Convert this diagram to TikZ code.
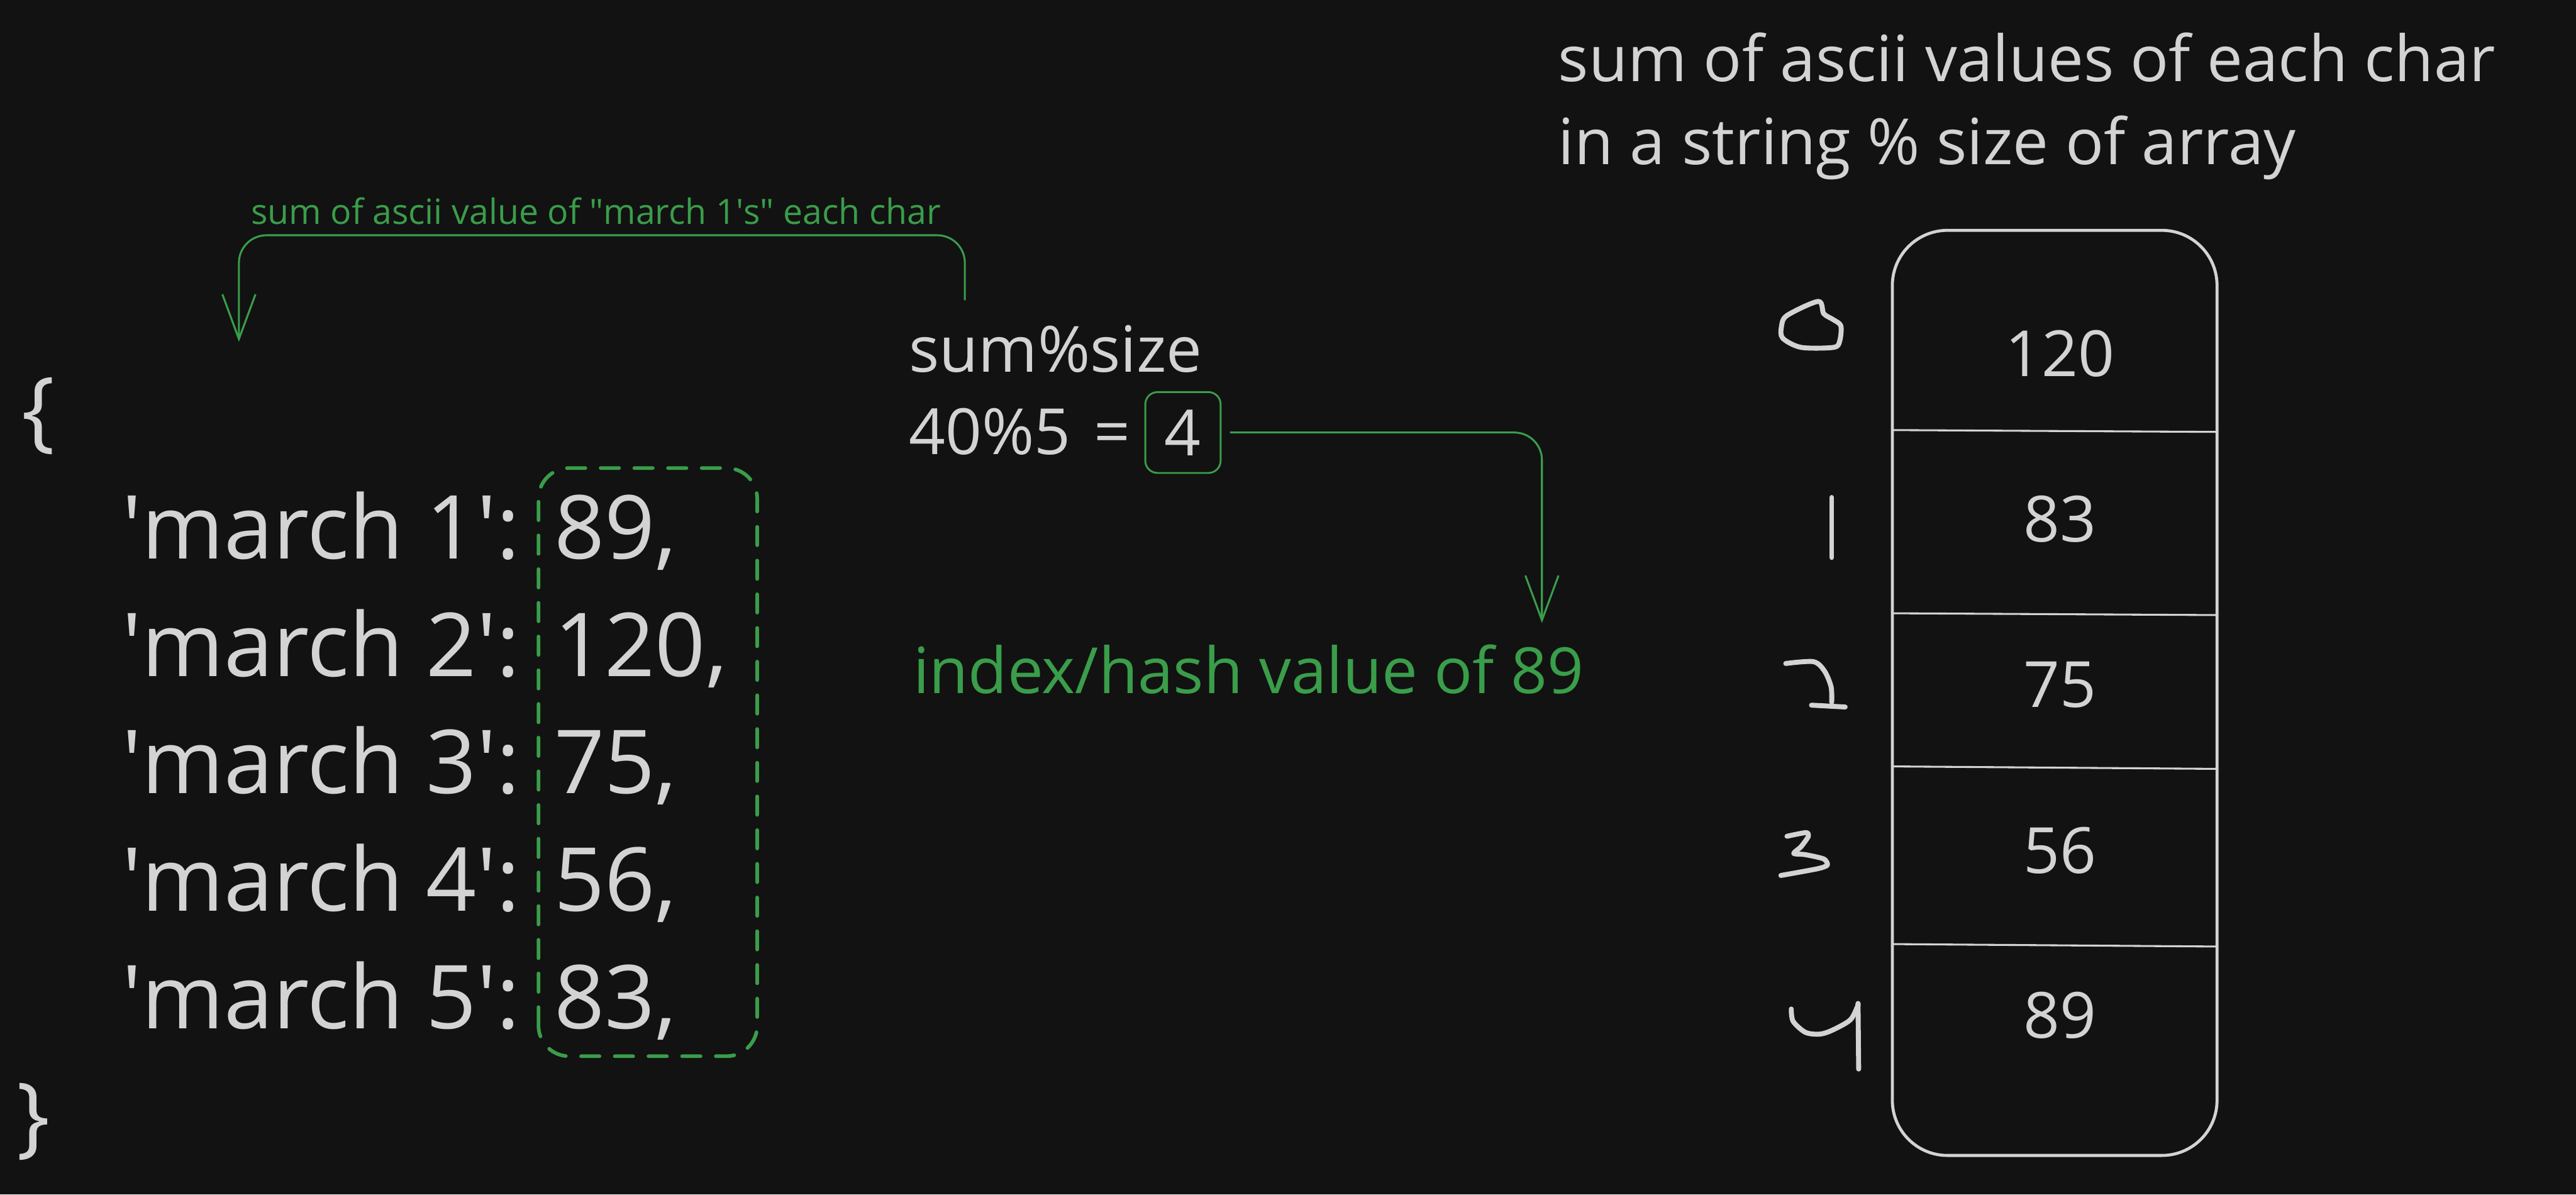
\documentclass[tikz,border=0pt]{standalone}
\usepackage{fontspec}
\setmainfont{Open Sans}
\usetikzlibrary{arrows.meta}

\definecolor{bgcol}{HTML}{121212}
\definecolor{inkcol}{HTML}{D3D3D3}
\definecolor{greencol}{HTML}{3A9D4A}

\tikzset{
  codeline/.style={text=inkcol, font=\fontsize{41}{49}\selectfont, inner sep=0pt, anchor=base west},
  midtext/.style={text=inkcol, font=\fontsize{29.6}{36}\selectfont, inner sep=0pt, anchor=base west},
  smallgreen/.style={text=greencol, font=\fontsize{16.2}{20}\selectfont, inner sep=0pt, anchor=base west},
  cellnum/.style={text=inkcol, font=\fontsize{29.6}{36}\selectfont, inner sep=0pt, anchor=base},
  fourbox/.style={draw=greencol, line width=0.85pt, rounded corners=0.2cm, text=inkcol,
    font=\fontsize{29.6}{36}\selectfont, inner sep=0pt, minimum width=1.23cm, minimum height=1.32cm},
  greenarrow/.style={draw=greencol, line width=0.9pt, rounded corners=0.45cm,
    -{Straight Barb[length=0.73cm, width=0.54cm]}},
  dashbox/.style={draw=greencol, line width=1.7pt, line cap=round, rounded corners=0.5cm,
    dash pattern=on 0.30cm off 0.25cm},
  handdigit/.style={draw=inkcol, line width=2.3pt, line cap=round, line join=round}
}

\begin{document}
\begin{tikzpicture}
  \fill[bgcol] (0,0) rectangle (42.05,19.5);
  \useasboundingbox (0,0) rectangle (42.05,19.5);

  % the dict
  \node[codeline, anchor=center] (lbrace) at (0.63,12.71) {\{};
  \node[codeline, anchor=center] (rbrace) at (0.55,1.19) {\}};
  \foreach \k/\v/\y in {1/89/10.38, 2/120/8.46, 3/75/6.55, 4/56/4.63, 5/83/2.71} {
    \node[codeline] (key\k) at (1.99,\y) {\textquotesingle march \k\textquotesingle:};
    \node[codeline] (val\k) at (9.04,\y) {\v,};
  }
  \draw[dashbox] (8.79,2.26) rectangle (12.36,11.86);

  % sum of the key
  \node[smallgreen] (note) at (4.09,15.84) {sum of ascii value of \textquotedbl march 1\textquotesingle s\textquotedbl{} each char};
  \coordinate (a1from) at (15.75,14.60);
  \coordinate (a1to) at (3.90,13.92);
  \draw[greenarrow] (a1from) -- ++(0,1.06) -| (a1to);

  \node[midtext] (sumsize) at (14.83,13.43) {sum\%size};
  \node[midtext] (calc) at (14.83,12.08) {40\%5\hspace{0.38cm}=};
  \node[fourbox] (four) at (19.31,12.44) {4};
  \coordinate (a2to) at (25.17,9.33);
  \draw[greenarrow, shorten <=0.14cm] (four.east) -| (a2to);
  \node[midtext, text=greencol] (hashval) at (14.90,8.18) {index/hash value of 89};

  % the array
  \node[midtext] (title1) at (25.43,18.17) {sum of ascii values of each char};
  \node[midtext] (title2) at (25.43,16.82) {in a string \% size of array};

  \draw[inkcol, line width=1.4pt, rounded corners=0.9cm] (30.89,0.64) rectangle (36.19,15.74);
  \foreach \yl/\yr in {12.48/12.45, 9.49/9.46, 6.99/6.95, 4.09/4.05}
    \draw[inkcol, line width=0.9pt] (30.89,\yl) -- (36.19,\yr);
  \foreach \v/\y [count=\i from 0] in {120/13.36, 83/10.66, 75/7.96, 56/5.25, 89/2.56}
    \node[cellnum] (cell\i) at (33.63,\y) {\v};

  % indices, written by hand
  \draw[handdigit] plot[smooth cycle, tension=0.5] coordinates {(29.68,14.58) (29.17,14.35) (29.08,14.17)
    (29.10,13.98) (29.40,13.83) (29.93,13.83) (30.03,13.93) (30.05,14.18) (29.93,14.28) (29.77,14.38)};
  \draw[handdigit] (29.90,11.38) -- (29.90,10.40);
  \draw[handdigit] plot[smooth, tension=0.5] coordinates {(29.15,8.67) (29.60,8.70) (29.78,8.55) (29.89,8.29) (29.90,8.04)};
  \draw[handdigit] (29.57,7.99) -- (30.12,7.96);
  \draw[handdigit] plot[smooth, tension=0.4] coordinates {(29.17,5.85) (29.48,5.91) (29.52,5.85) (29.40,5.68)
    (29.28,5.57) (29.47,5.55) (29.77,5.48) (29.83,5.38) (29.67,5.32) (29.07,5.21)};
  \draw[handdigit] plot[smooth, tension=0.5] coordinates {(29.24,3.03) (29.27,2.83) (29.47,2.65) (29.70,2.62)
    (29.90,2.68) (30.20,2.85) (30.32,3.07) (30.33,3.12)};
  \draw[handdigit] (30.33,3.12) -- (30.34,2.05);
\end{tikzpicture}
\end{document}
